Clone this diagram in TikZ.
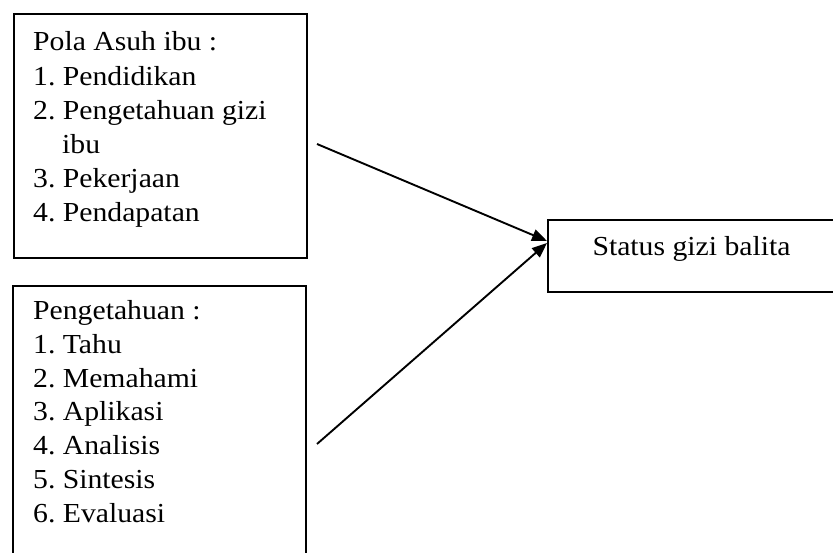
\documentclass[tikz,border=0pt]{standalone}
\usepackage{fontspec}
\setmainfont{Liberation Serif}[FakeStretch=1.08]
\usetikzlibrary{arrows.meta}
\frenchspacing
\begin{document}
\begin{tikzpicture}[x=1pt,y=-1pt,
  boxline/.style={draw=black,line width=1.9pt},
  bigfont/.style={font=\fontsize{27.5}{34.2}\selectfont\frenchspacing},
  listtext/.style={bigfont,align=left,inner sep=0pt,anchor=base west},
  conn/.style={line width=1.9pt,-{Triangle[length=15pt,width=12pt]}}]
\useasboundingbox (0,0) rectangle (833,553);
% box 1
\node[boxline,rectangle,minimum width=293pt,minimum height=244pt,anchor=north west,inner sep=0pt] (box1) at (13,13) {};
\node[listtext] (t1) at (33,222) {Pola Asuh ibu :\\1. Pendidikan\\2. Pengetahuan gizi\\\hspace*{29pt}ibu\\3. Pekerjaan\\4. Pendapatan};
% box 2 (open at the bottom)
\draw[boxline] (13,560) -- (13,286) -- (306,286) -- (306,560);
\node[listtext,font=\fontsize{27.5}{33.7}\selectfont\frenchspacing] (t2) at (33,522) {Pengetahuan :\\1. Tahu\\2. Memahami\\3. Aplikasi\\4. Analisis\\5. Sintesis\\6. Evaluasi};
% status box
\node[boxline,rectangle,minimum width=320pt,minimum height=72pt,anchor=north west,inner sep=0pt] (box3) at (547,219) {};
\node[bigfont,inner sep=0pt,anchor=base] (t3) at (691.5,256) {Status gizi balita};
% connectors
\coordinate (s1) at (317,144);
\coordinate (s2) at (317,444);
\coordinate (e1) at (box3.north west |- 0,241);
\coordinate (e2) at (box3.north west |- 0,243);
\draw[conn] (s1) -- (e1);
\draw[conn] (s2) -- (e2);
\end{tikzpicture}
\end{document}
